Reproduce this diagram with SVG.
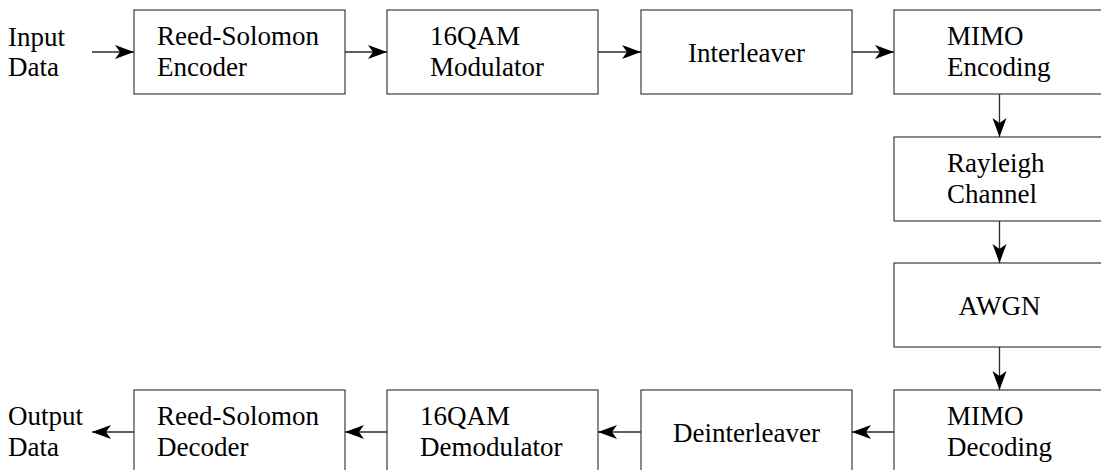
<svg xmlns="http://www.w3.org/2000/svg" width="1101" height="470" viewBox="0 0 1101 470">
  <style>
    .box { fill: #ffffff; stroke: #2b2b2b; stroke-width: 1.1; }
    .lbl { font-family: "Liberation Serif", "Times New Roman", serif; font-size: 27px; fill: #000000; }
    .mid { text-anchor: middle; }
    .wire { fill: none; stroke: #2b2b2b; stroke-width: 1.3; marker-end: url(#stealth); }
  </style>
  <defs>
    <marker id="stealth" viewBox="-20 -8 21 16" refX="0" refY="0" markerWidth="21" markerHeight="16" markerUnits="userSpaceOnUse" orient="auto">
      <path d="M0,0 L-19,-7 L-14,0 L-19,7 Z" fill="#000000"/>
    </marker>
  </defs>
  <rect width="1101" height="470" fill="#ffffff"/>

  <!-- external labels -->
  <g id="input-data">
    <text class="lbl" x="8" y="46">Input</text>
    <text class="lbl" x="8" y="76">Data</text>
  </g>
  <g id="output-data">
    <text class="lbl" x="8" y="425">Output</text>
    <text class="lbl" x="8" y="456">Data</text>
  </g>

  <!-- transmitter chain -->
  <g id="rs-encoder">
    <rect class="box" x="134" y="10" width="211" height="84"/>
    <text class="lbl" x="157" y="45">Reed-Solomon</text>
    <text class="lbl" x="157" y="76">Encoder</text>
  </g>
  <g id="qam-modulator">
    <rect class="box" x="387" y="10" width="211" height="84"/>
    <text class="lbl" x="430" y="45">16QAM</text>
    <text class="lbl" x="430" y="76">Modulator</text>
  </g>
  <g id="interleaver">
    <rect class="box" x="641" y="10" width="211" height="84"/>
    <text class="lbl mid" x="746.5" y="62">Interleaver</text>
  </g>
  <g id="mimo-encoding">
    <rect class="box" x="894" y="10" width="211" height="84"/>
    <text class="lbl" x="947" y="45">MIMO</text>
    <text class="lbl" x="947" y="76">Encoding</text>
  </g>

  <!-- channel -->
  <g id="rayleigh-channel">
    <rect class="box" x="894" y="137" width="211" height="84"/>
    <text class="lbl" x="947" y="172">Rayleigh</text>
    <text class="lbl" x="947" y="203">Channel</text>
  </g>
  <g id="awgn">
    <rect class="box" x="894" y="263" width="211" height="84"/>
    <text class="lbl mid" x="999.5" y="315">AWGN</text>
  </g>

  <!-- receiver chain -->
  <g id="mimo-decoding">
    <rect class="box" x="894" y="390" width="211" height="84"/>
    <text class="lbl" x="947" y="425">MIMO</text>
    <text class="lbl" x="947" y="456">Decoding</text>
  </g>
  <g id="deinterleaver">
    <rect class="box" x="641" y="390" width="211" height="84"/>
    <text class="lbl mid" x="746.5" y="442">Deinterleaver</text>
  </g>
  <g id="qam-demodulator">
    <rect class="box" x="387" y="390" width="211" height="84"/>
    <text class="lbl" x="420" y="425">16QAM</text>
    <text class="lbl" x="420" y="456">Demodulator</text>
  </g>
  <g id="rs-decoder">
    <rect class="box" x="134" y="390" width="211" height="84"/>
    <text class="lbl" x="157" y="425">Reed-Solomon</text>
    <text class="lbl" x="157" y="456">Decoder</text>
  </g>

  <!-- connectors -->
  <g id="connectors">
    <path class="wire" d="M92,52 H134"/>
    <path class="wire" d="M345,52 H387"/>
    <path class="wire" d="M598,52 H641"/>
    <path class="wire" d="M852,52 H894"/>
    <path class="wire" d="M999.5,94 V137"/>
    <path class="wire" d="M999.5,221 V263"/>
    <path class="wire" d="M999.5,347 V390"/>
    <path class="wire" d="M894,432 H852"/>
    <path class="wire" d="M641,432 H598"/>
    <path class="wire" d="M387,432 H345"/>
    <path class="wire" d="M134,432 H92"/>
  </g>
</svg>
